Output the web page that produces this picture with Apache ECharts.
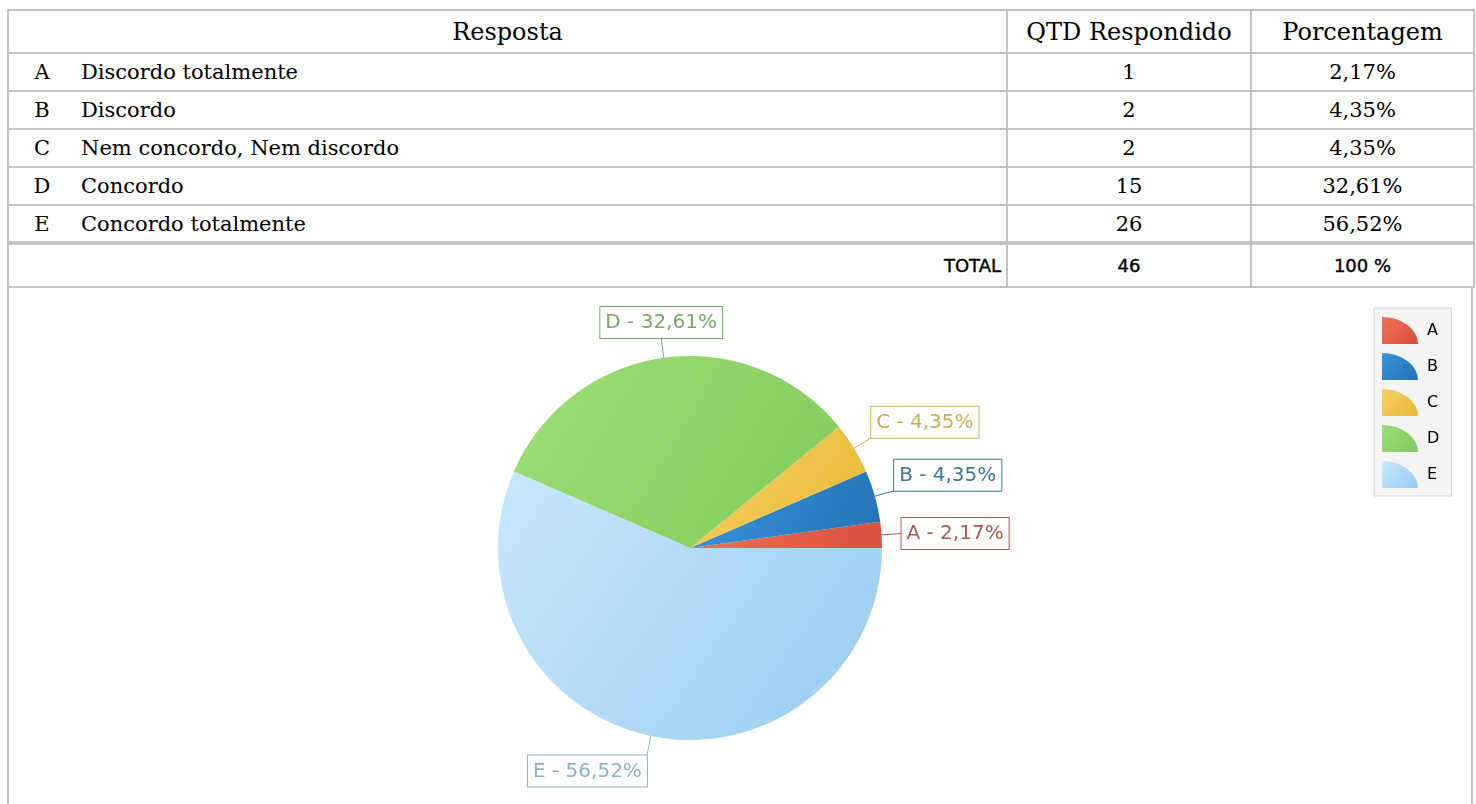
<!DOCTYPE html>
<html>
<head>
<meta charset="utf-8">
<title>Respostas</title>
<script src="https://cdn.jsdelivr.net/npm/echarts@6.0.0/dist/echarts.min.js"></script>
<style>
html, body {
  margin: 0;
  padding: 0;
  background: #fff;
}

body {
  position: relative;
  width: 1476px;
  height: 804px;
  overflow: hidden;
}

#pie-chart {
  position: absolute;
  left: 0;
  top: 0;
  width: 1476px;
  height: 804px;
}

#chart-frame {
  position: absolute;
  left: 7px;
  top: 287px;
  width: 1462px;
  height: 540px;
  border-left: 2px solid #c3c3c3;
  border-right: 2px solid #c3c3c3;
  pointer-events: none;
}

#answers {
  position: absolute;
  left: 7px;
  top: 9px;
  width: 1466px;
  border-collapse: collapse;
  table-layout: fixed;
  background: #fff;
  z-index: 2;
}

#answers td {
  border: 2px solid #c3c3c3;
  padding: 0;
  font-family: 'DejaVu Serif', serif;
  font-size: 21px;
  color: #000;
  vertical-align: middle;
  white-space: nowrap;
}

#answers tr { height: 38px; }
#answers tr.head { height: 43px; }
#answers tr.head td { font-size: 24px; text-align: center; }
#answers tr.total { height: 44px; }
#answers tr.total td {
  border-top: 4px solid #c3c3c3;
  font-family: 'DejaVu Sans', sans-serif;
  font-size: 18px;
  -webkit-text-stroke: 0.4px #000;
  text-align: center;
}
#answers tr.total td.label { text-align: right; padding-right: 5px; }

#answers td.num { text-align: center; }
.letter { display: inline-block; width: 66px; text-align: center; }
.desc { padding-left: 6px; }
</style>
</head>
<body>
<div id="pie-chart"></div>
<div id="chart-frame"></div>
<table id="answers">
  <colgroup>
    <col style="width: 999px">
    <col style="width: 244px">
    <col style="width: 223px">
  </colgroup>
  <tbody id="answers-body"></tbody>
</table>

<script>
const headers = ['Resposta', 'QTD Respondido', 'Porcentagem'];
const letters = ['A', 'B', 'C', 'D', 'E'];
const answers = [
  'Discordo totalmente',
  'Discordo',
  'Nem concordo, Nem discordo',
  'Concordo',
  'Concordo totalmente',
];
const counts = [1, 2, 2, 15, 26];
const totalLabel = 'TOTAL';

// slice colours: [light, dark, label border/text]
const palette = [
  ['#ee7058', '#d94f3d', '#a65a4e'],
  ['#3b95da', '#2372b6', '#3f7393'],
  ['#f6d25e', '#e9b73a', '#ccae52'],
  ['#9fdf79', '#80c95b', '#79a965'],
  ['#c8e7fc', '#98ccf0', '#8fb0c4'],
];

const total = counts.reduce((a, b) => a + b, 0);
const pct = (v) => (v / total * 100).toFixed(2).replace('.', ',') + '%';

// table
const tbody = document.getElementById('answers-body');
let html = '<tr class="head">'
  + headers.map((h) => '<td>' + h + '</td>').join('') + '</tr>';
letters.forEach((l, i) => {
  html += '<tr>'
    + '<td><span class="letter">' + l + '</span><span class="desc">' + answers[i] + '</span></td>'
    + '<td class="num">' + counts[i] + '</td>'
    + '<td class="num">' + pct(counts[i]) + '</td>'
    + '</tr>';
});
html += '<tr class="total"><td class="label">' + totalLabel + '</td>'
  + '<td>' + total + '</td><td>100 %</td></tr>';
tbody.innerHTML = html;

// pie
const pieData = letters.map((l, i) => ({
  name: l,
  value: counts[i],
  itemStyle: {
    color: new echarts.graphic.LinearGradient(0, 0, 1, 1, [
      { offset: 0, color: palette[i][0] },
      { offset: 1, color: palette[i][1] },
    ]),
  },
  label: {
    color: palette[i][2],
    borderColor: palette[i][2],
  },
  labelLine: {
    lineStyle: { color: palette[i][2] },
  },
}));

const chartOption = {
  animation: false,
  legend: {
    orient: 'vertical',
    left: 1374,
    top: 308,
    data: letters,
    icon: 'path://M0,100 L0,0 A100,100 0 0 1 100,100 Z',
    symbolKeepAspect: false,
    itemWidth: 36,
    itemHeight: 27,
    itemGap: 9,
    padding: [9, 12, 8, 8],
    backgroundColor: '#f4f4f4',
    borderColor: '#d2d2d2',
    borderWidth: 1,
    selectedMode: false,
    textStyle: {
      fontFamily: '"DejaVu Sans", sans-serif',
      fontSize: 16,
      color: '#000',
      padding: [0, 0, 0, 4],
    },
  },
  series: [
    {
      type: 'pie',
      center: [690, 548],
      radius: 192,
      startAngle: 0,
      clockwise: false,
      avoidLabelOverlap: false,
      emphasis: { disabled: true },
      data: pieData,
      label: {
        position: 'outside',
        formatter: (p) => p.name + ' - ' + p.percent.toFixed(2).replace('.', ',') + '%',
        fontFamily: '"DejaVu Sans", sans-serif',
        fontSize: 20,
        backgroundColor: '#fff',
        borderWidth: 1,
        padding: [6, 5, 5, 5],
      },
      labelLine: {
        show: true,
        length: 20,
        length2: 0,
        lineStyle: { width: 1 },
      },
      labelLayout: (params) => {
        const pts = params.labelLinePoints;
        const p0 = pts[0];
        const p1 = pts[1];
        const len = Math.hypot(p1[0] - p0[0], p1[1] - p0[1]);
        const ux = (p1[0] - p0[0]) / len;
        const uy = (p1[1] - p0[1]) / len;
        let align = 'center';
        if (Math.abs(ux) >= 0.17) align = ux > 0 ? 'left' : 'right';
        let verticalAlign = 'middle';
        if (Math.abs(uy) >= 0.15) verticalAlign = uy > 0 ? 'top' : 'bottom';
        return {
          x: p1[0],
          y: p1[1],
          align,
          verticalAlign,
          labelLinePoints: [p0, p1],
        };
      },
    },
  ],
};

const myChart = echarts.init(document.getElementById('pie-chart'));
myChart.setOption(chartOption);
</script>
</body>
</html>
